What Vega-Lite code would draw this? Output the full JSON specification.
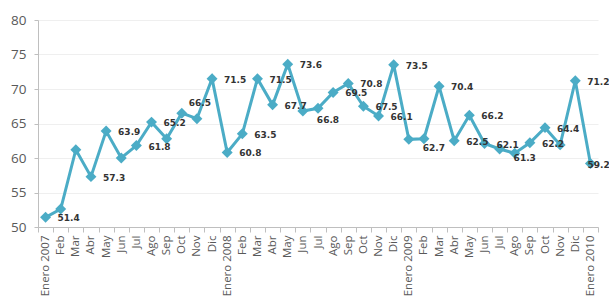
{
  "$schema": "https://vega.github.io/schema/vega-lite/v6.json",
  "autosize": {"type": "none"},
  "width": 560,
  "height": 207,
  "padding": {"left": 38, "top": 20, "right": 11, "bottom": 71},
  "background": "white",
  "config": {"view": {"stroke": null}},
  "data": {"values": [
    {"fecha": "2007-01", "valor": 51.4, "etiqueta": true},
    {"fecha": "2007-02", "valor": 52.6, "etiqueta": false},
    {"fecha": "2007-03", "valor": 61.2, "etiqueta": false},
    {"fecha": "2007-04", "valor": 57.3, "etiqueta": true},
    {"fecha": "2007-05", "valor": 63.9, "etiqueta": true},
    {"fecha": "2007-06", "valor": 60.0, "etiqueta": false},
    {"fecha": "2007-07", "valor": 61.8, "etiqueta": true},
    {"fecha": "2007-08", "valor": 65.2, "etiqueta": true},
    {"fecha": "2007-09", "valor": 62.8, "etiqueta": false},
    {"fecha": "2007-10", "valor": 66.5, "etiqueta": true},
    {"fecha": "2007-11", "valor": 65.7, "etiqueta": false},
    {"fecha": "2007-12", "valor": 71.5, "etiqueta": true},
    {"fecha": "2008-01", "valor": 60.8, "etiqueta": true},
    {"fecha": "2008-02", "valor": 63.5, "etiqueta": true},
    {"fecha": "2008-03", "valor": 71.5, "etiqueta": true},
    {"fecha": "2008-04", "valor": 67.7, "etiqueta": true},
    {"fecha": "2008-05", "valor": 73.6, "etiqueta": true},
    {"fecha": "2008-06", "valor": 66.8, "etiqueta": true},
    {"fecha": "2008-07", "valor": 67.2, "etiqueta": false},
    {"fecha": "2008-08", "valor": 69.5, "etiqueta": true},
    {"fecha": "2008-09", "valor": 70.8, "etiqueta": true},
    {"fecha": "2008-10", "valor": 67.5, "etiqueta": true},
    {"fecha": "2008-11", "valor": 66.1, "etiqueta": true},
    {"fecha": "2008-12", "valor": 73.5, "etiqueta": true},
    {"fecha": "2009-01", "valor": 62.7, "etiqueta": true},
    {"fecha": "2009-02", "valor": 62.8, "etiqueta": false},
    {"fecha": "2009-03", "valor": 70.4, "etiqueta": true},
    {"fecha": "2009-04", "valor": 62.5, "etiqueta": true},
    {"fecha": "2009-05", "valor": 66.2, "etiqueta": true},
    {"fecha": "2009-06", "valor": 62.1, "etiqueta": true},
    {"fecha": "2009-07", "valor": 61.3, "etiqueta": true},
    {"fecha": "2009-08", "valor": 60.7, "etiqueta": false},
    {"fecha": "2009-09", "valor": 62.2, "etiqueta": true},
    {"fecha": "2009-10", "valor": 64.4, "etiqueta": true},
    {"fecha": "2009-11", "valor": 61.9, "etiqueta": false},
    {"fecha": "2009-12", "valor": 71.2, "etiqueta": true},
    {"fecha": "2010-01", "valor": 59.2, "etiqueta": true}
  ]},
  "encoding": {
    "x": {
      "field": "fecha", "type": "ordinal", "sort": null, "bandPosition": 0.5,
      "scale": {"type": "band", "paddingInner": 0, "paddingOuter": 0},
      "axis": {
        "title": null, "labelAngle": -90, "labelFontSize": 11.5, "labelFont": "Open Sans",
        "labelColor": "#595959", "tickBand": "extent", "tickColor": "#bfbfbf", "tickSize": 5,
        "domainColor": "#bfbfbf", "labelPadding": 3, "grid": false,
        "labelExpr": "isString(datum.value) ? ['Enero','Feb','Mar','Abr','May','Jun','Jul','Ago','Sep','Oct','Nov','Dic'][toNumber(substring(datum.value,5,7))-1] + (substring(datum.value,5,7)=='01' ? ' ' + substring(datum.value,0,4) : '') : ''"
      }
    },
    "y": {
      "field": "valor", "type": "quantitative",
      "scale": {"domain": [50, 80], "zero": false, "nice": false},
      "axis": {
        "title": null, "values": [50, 55, 60, 65, 70, 75, 80], "labelFontSize": 13.5, "labelFont": "Open Sans",
        "labelColor": "#595959", "gridColor": "#efefef", "domainColor": "#bfbfbf",
        "tickColor": "#bfbfbf", "tickSize": 4, "labelPadding": 8
      }
    }
  },
  "layer": [
    {"mark": {"type": "line", "color": "#4BACC6", "strokeWidth": 3}},
    {"mark": {"type": "point", "shape": "diamond", "filled": true, "color": "#4BACC6", "size": 120, "opacity": 1}},
    {
      "transform": [{"filter": "datum.etiqueta && indexof(['2007-10','2008-06','2009-01','2009-07','2010-01'], datum.fecha) < 0"}],
      "mark": {"type": "text", "align": "left", "baseline": "middle", "dx": 12, "dy": 1, "font": "DejaVu Sans", "fontWeight": "bold", "fontSize": 9, "color": "#333333"},
      "encoding": {"text": {"field": "valor", "type": "quantitative", "format": ".1f"}}
    },
    {
      "transform": [{"filter": "datum.fecha == '2007-10'"}],
      "mark": {"type": "text", "align": "left", "baseline": "middle", "dx": 7, "dy": -10, "font": "DejaVu Sans", "fontWeight": "bold", "fontSize": 9, "color": "#333333"},
      "encoding": {"text": {"field": "valor", "type": "quantitative", "format": ".1f"}}
    },
    {
      "transform": [{"filter": "indexof(['2008-06','2009-01','2009-07'], datum.fecha) >= 0"}],
      "mark": {"type": "text", "align": "left", "baseline": "middle", "dx": 14, "dy": 9, "font": "DejaVu Sans", "fontWeight": "bold", "fontSize": 9, "color": "#333333"},
      "encoding": {"text": {"field": "valor", "type": "quantitative", "format": ".1f"}}
    },
    {
      "transform": [{"filter": "datum.fecha == '2010-01'"}],
      "mark": {"type": "text", "align": "left", "baseline": "middle", "dx": -3, "dy": 1, "font": "DejaVu Sans", "fontWeight": "bold", "fontSize": 9, "color": "#333333"},
      "encoding": {"text": {"field": "valor", "type": "quantitative", "format": ".1f"}}
    }
  ]
}
